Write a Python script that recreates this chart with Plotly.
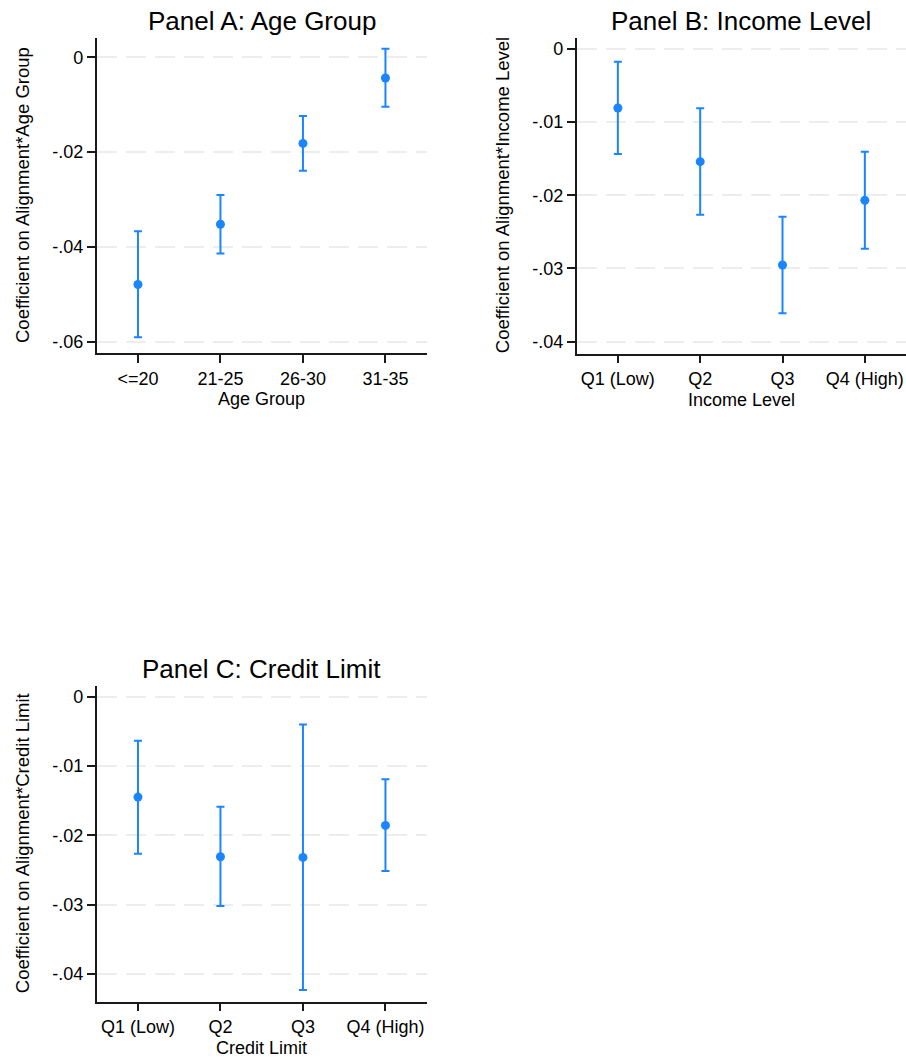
import plotly.graph_objects as go

# ---------------- data ----------------
age_groups = ["<=20", "21-25", "26-30", "31-35"]
age_coef = [-0.0479, -0.0352, -0.01815, -0.00437]
age_lower = [-0.0590, -0.04135, -0.02392, -0.01042]
age_upper = [-0.03665, -0.02905, -0.01238, 0.00182]

income_levels = ["Q1 (Low)", "Q2", "Q3", "Q4 (High)"]
income_coef = [-0.0081, -0.01542, -0.02953, -0.0207]
income_lower = [-0.01437, -0.02266, -0.03613, -0.0273]
income_upper = [-0.00177, -0.00814, -0.02293, -0.01406]

credit_levels = ["Q1 (Low)", "Q2", "Q3", "Q4 (High)"]
credit_coef = [-0.01448, -0.02309, -0.02318, -0.01857]
credit_lower = [-0.02266, -0.0302, -0.04233, -0.02515]
credit_upper = [-0.00635, -0.01587, -0.00399, -0.01192]

age_ticks = [0, -0.02, -0.04, -0.06]
age_ticktext = ["0", "-.02", "-.04", "-.06"]
q_ticks = [0, -0.01, -0.02, -0.03, -0.04]
q_ticktext = ["0", "-.01", "-.02", "-.03", "-.04"]

titles = ["Panel A: Age Group", "Panel B: Income Level", "Panel C: Credit Limit"]
xtitles = ["Age Group", "Income Level", "Credit Limit"]
ytitles = ["Coefficient on Alignment*Age Group",
           "Coefficient on Alignment*Income Level",
           "Coefficient on Alignment*Credit Limit"]

# ---------------- layout geometry ----------------
W, H = 906, 1059
BLUE = "#1a85ff"
FONT = "Arial, Liberation Sans, sans-serif"


def px_x(p):
    return p / W


def px_y(p):
    return 1 - p / H


panels = [
    dict(cats=age_groups, coef=age_coef, lo=age_lower, hi=age_upper,
         tv=age_ticks, tt=age_ticktext, yr=[-0.0624, 0.00413],
         box=(96.7, 426.7, 37.7, 353.3), ytx=22.5),
    dict(cats=income_levels, coef=income_coef, lo=income_lower, hi=income_upper,
         tv=q_ticks, tt=q_ticktext, yr=[-0.04164, 0.0015],
         box=(576.7, 906, 37.7, 353.7), ytx=502.5),
    dict(cats=credit_levels, coef=credit_coef, lo=credit_lower, hi=credit_upper,
         tv=q_ticks, tt=q_ticktext, yr=[-0.0440, 0.00159],
         box=(96.7, 426.7, 685.7, 1001.7), ytx=22.5),
]

fig = go.Figure()
annotations = []
layout_axes = {}

for i, p in enumerate(panels):
    n = "" if i == 0 else str(i + 1)
    xa, ya = "x" + n, "y" + n
    plus = [h - c for h, c in zip(p["hi"], p["coef"])]
    minus = [c - l for c, l in zip(p["coef"], p["lo"])]
    fig.add_trace(go.Scatter(
        x=p["cats"], y=p["coef"], mode="markers", xaxis=xa, yaxis=ya,
        marker=dict(color=BLUE, size=9),
        error_y=dict(type="data", array=plus, arrayminus=minus, symmetric=False,
                     color=BLUE, thickness=2, width=4),
        showlegend=False, cliponaxis=False,
    ))
    x0, x1, y0, y1 = p["box"]
    layout_axes["xaxis" + n] = dict(
        domain=[px_x(x0), min(1.0, px_x(x1))], anchor=ya,
        type="category", range=[-0.5, 3.5],
        showline=True, linecolor="#1a1a1a", linewidth=1.5,
        ticks="outside", ticklen=8, tickwidth=1.5, tickcolor="#1a1a1a",
        showgrid=False, zeroline=False,
        tickfont=dict(family=FONT, size=18, color="black"),
        automargin=False,
    )
    layout_axes["yaxis" + n] = dict(
        domain=[px_y(y1), px_y(y0)], anchor=xa,
        range=p["yr"], tickvals=p["tv"], ticktext=p["tt"],
        showline=True, linecolor="#1a1a1a", linewidth=1.5,
        ticks="outside", ticklen=8, tickwidth=1.5, tickcolor="#1a1a1a",
        showgrid=True, gridcolor="#ededed", gridwidth=1.5, griddash="20px,9px",
        zeroline=False,
        tickfont=dict(family=FONT, size=18, color="black"),
        automargin=False,
    )
    cx = (x0 + x1) / 2
    # panel title
    annotations.append(dict(
        text=titles[i], x=px_x(cx), y=px_y(y0 - 17), xref="paper", yref="paper",
        xanchor="center", yanchor="middle", showarrow=False,
        font=dict(family=FONT, size=26, color="black")))
    # x-axis title
    annotations.append(dict(
        text=xtitles[i], x=px_x(cx), y=px_y(y1 + 46), xref="paper", yref="paper",
        xanchor="center", yanchor="middle", showarrow=False,
        font=dict(family=FONT, size=18, color="black")))
    # y-axis title
    annotations.append(dict(
        text=ytitles[i], x=px_x(p["ytx"]), y=px_y((y0 + y1) / 2),
        xref="paper", yref="paper", textangle=-90,
        xanchor="center", yanchor="middle", showarrow=False,
        font=dict(family=FONT, size=18.5, color="black")))

fig.update_layout(
    width=W, height=H,
    margin=dict(l=0, r=0, t=0, b=0),
    paper_bgcolor="white", plot_bgcolor="white",
    annotations=annotations,
    font=dict(family=FONT, color="black"),
    **layout_axes,
)

fig.write_html("out.html")
